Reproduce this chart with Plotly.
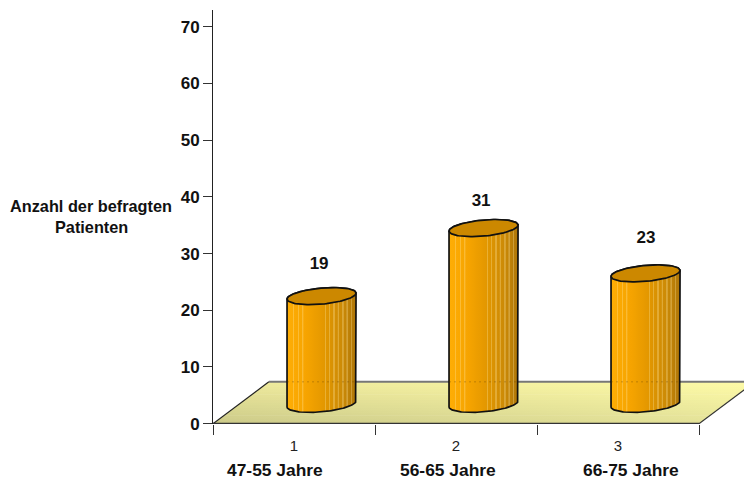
import numpy as np
import plotly.graph_objects as go

# Survey data
group_ids = ["1", "2", "3"]
age_groups = ["47-55 Jahre", "56-65 Jahre", "66-75 Jahre"]
patients = [19, 31, 23]
y_ticks = [0, 10, 20, 30, 40, 50, 60, 70]
y_title = ["Anzahl der befragten", "Patienten"]

FONT = "Liberation Sans"
INK = "#111111"

# Pseudo-3D geometry in axis units
DEPTH_X, DEPTH_Y = 0.345, 7.4
BAR_DX, BAR_DY = 0.670, 3.5
HALF_W = 0.213
TILT, MINOR = 0.53, 1.41

# Pixel frame of the plot area
LEFT, TOP, BOTTOM = 213, 10, 55
PLOT_W, PLOT_H = 744 - LEFT, 479 - TOP - BOTTOM
PX_X = 162.0
X_MAX = PLOT_W / PX_X


def mix(a, b, f):
    return tuple(a[i] + (b[i] - a[i]) * f for i in range(3))


def rgb(c):
    return "rgb(%d,%d,%d)" % tuple(round(v) for v in c)


fig = go.Figure()

# Floor: stacked bands, each shaded left to right, for a diagonal gradient
FL, BL = (205, 203, 138), (238, 234, 156)
FR, BR = (230, 228, 154), (255, 252, 168)
n_bands = 16
for k in range(n_bands):
    f0, f1 = k / n_bands, min(1, (k + 1.25) / n_bands)
    y0, y1 = f0 * DEPTH_Y, f1 * DEPTH_Y
    xs = [f0 * DEPTH_X, 3 + f0 * DEPTH_X, 3 + f1 * DEPTH_X, f1 * DEPTH_X, f0 * DEPTH_X]
    ys = [y0, y0, y1, y1, y0]
    left, right = mix(FL, BL, f0), mix(FR, BR, f0)
    fig.add_trace(go.Scatter(
        x=xs, y=ys, mode="lines", line=dict(width=0), fill="toself",
        fillgradient=dict(type="horizontal", start=0, stop=3.35,
                          colorscale=[[0, rgb(left)], [1, rgb(right)]]),
        cliponaxis=False, hoverinfo="skip", showlegend=False))

# Floor outline
fig.add_trace(go.Scatter(x=[0, DEPTH_X], y=[0, DEPTH_Y], mode="lines",
                         line=dict(color="#222222", width=1.2),
                         cliponaxis=False, hoverinfo="skip", showlegend=False))
fig.add_trace(go.Scatter(x=[3, 3 + DEPTH_X], y=[0, DEPTH_Y], mode="lines",
                         line=dict(color="#333333", width=1.2),
                         cliponaxis=False, hoverinfo="skip", showlegend=False))
fig.add_trace(go.Scatter(x=[DEPTH_X, 3 + DEPTH_X], y=[DEPTH_Y, DEPTH_Y], mode="lines",
                         line=dict(color="#777777", width=2),
                         cliponaxis=False, hoverinfo="skip", showlegend=False))
# Front edge doubles as the category axis line; it stops at the last category
fig.add_trace(go.Scatter(x=[0, 3], y=[0, 0], mode="lines",
                         line=dict(color="#333333", width=2),
                         cliponaxis=False, hoverinfo="skip", showlegend=False))

# Cylinder shading: smooth base ramp with thin lighter stripes
ramp_pos = [0, 0.3, 0.55, 0.8, 1]
ramp_col = [(255, 174, 5), (245, 163, 0), (226, 151, 0), (204, 138, 6), (174, 118, 8)]
stripes = [0.09, 0.17, 0.23, 0.56, 0.62, 0.68, 0.74, 0.81, 0.87, 0.93]


def ramp(f):
    return tuple(np.interp(f, ramp_pos, [c[i] for c in ramp_col]) for i in range(3))


stops = []
for f in np.linspace(0, 1, 21):
    stops.append((float(f), rgb(ramp(f))))
for s in stripes:
    lit = mix(ramp(s), (255, 235, 170), 0.3)
    stops += [(s - 0.009, rgb(ramp(s))), (s - 0.008, rgb(lit)),
              (s + 0.008, rgb(lit)), (s + 0.009, rgb(ramp(s)))]
stops.sort(key=lambda p: p[0])
cylinder_scale = [[p, c] for p, c in stops]

t_lower = np.linspace(0, np.pi, 60)
t_upper = np.linspace(np.pi, 2 * np.pi, 60)

for i, v in enumerate(patients):
    cx = i + BAR_DX
    top = v + BAR_DY
    # body: upper arc of the top rim, then the lower arc of the base
    bx = np.concatenate([cx + HALF_W * np.cos(t_upper), cx + HALF_W * np.cos(t_lower)])
    by = np.concatenate([top + TILT * np.cos(t_upper) - MINOR * np.sin(t_upper),
                         BAR_DY + TILT * np.cos(t_lower) - MINOR * np.sin(t_lower)])
    fig.add_trace(go.Scatter(
        x=np.append(bx, bx[0]), y=np.append(by, by[0]), mode="lines",
        line=dict(color=INK, width=1.7), fill="toself",
        fillgradient=dict(type="horizontal", start=cx - HALF_W, stop=cx + HALF_W,
                          colorscale=cylinder_scale),
        hoverinfo="skip", showlegend=False))
    # floor edge showing faintly through the glassy body
    fig.add_trace(go.Scatter(
        x=[cx - HALF_W, cx + HALF_W], y=[DEPTH_Y, DEPTH_Y], mode="lines",
        line=dict(color="rgba(90,60,0,0.22)", width=1.5, dash="2px,3px"),
        hoverinfo="skip", showlegend=False))
    # top cap
    t = np.linspace(0, 2 * np.pi, 120)
    fig.add_trace(go.Scatter(
        x=cx + HALF_W * np.cos(t), y=top + TILT * np.cos(t) - MINOR * np.sin(t),
        mode="lines", line=dict(color=INK, width=1.7), fill="toself",
        fillcolor="#CC8800", hoverinfo="skip", showlegend=False))

# Value labels above each cylinder
label_gap = [5.5, 4.6, 6.05]
label_dx = [-0.015, -0.015, 0.003]
fig.add_trace(go.Scatter(
    x=[i + BAR_DX + label_dx[i] for i in range(3)],
    y=[v + BAR_DY + label_gap[i] for i, v in enumerate(patients)],
    mode="text", text=[str(v) for v in patients], textposition="middle center",
    textfont=dict(family=FONT, size=17, color=INK, weight="bold"),
    hoverinfo="skip", showlegend=False))

annotations = []
# Age-group captions under the axis
caption_x = [274.5, 447.5, 630.5]
for name, px in zip(age_groups, caption_x):
    annotations.append(dict(
        x=(px - LEFT) / PX_X, xref="x", y=-45.5 / PLOT_H, yref="paper", text=name,
        showarrow=False, xanchor="center", yanchor="middle",
        font=dict(family=FONT, size=17.4, color=INK, weight="bold")))
# Two-line axis title, beside the axis
for line, py in zip(y_title, [206, 227]):
    annotations.append(dict(
        x=(91 - LEFT) / PLOT_W, xref="paper", y=(424 - py) / PLOT_H, yref="paper", text=line,
        showarrow=False, xanchor="center", yanchor="middle",
        font=dict(family=FONT, size=16.3, color=INK, weight="bold")))

fig.update_layout(
    width=744, height=479, autosize=False,
    margin=dict(l=LEFT, r=0, t=TOP, b=BOTTOM),
    paper_bgcolor="white", plot_bgcolor="white", showlegend=False,
    annotations=annotations,
    xaxis=dict(
        range=[0, X_MAX], showgrid=False, zeroline=False, showline=False,
        tickmode="array", tickvals=[0.5, 1.5, 2.5], ticktext=group_ids,
        ticks="outside", ticklen=0, ticklabelstandoff=8,
        tickfont=dict(family=FONT, size=15, color="#222222"),
        minor=dict(tickmode="array", tickvals=[0, 1, 2, 3], ticks="outside",
                   ticklen=10, tickwidth=1, tickcolor="#333333", showgrid=False)),
    yaxis=dict(
        range=[-0.053, 72.95], showgrid=False, zeroline=False,
        showline=True, linecolor="#222222", linewidth=1,
        tickmode="array", tickvals=y_ticks,
        ticks="outside", ticklen=9, tickwidth=1, tickcolor="#333333",
        tickfont=dict(family=FONT, size=17, color=INK, weight="bold")),
)

fig.write_html("out.html", config=dict(displayModeBar=False))
